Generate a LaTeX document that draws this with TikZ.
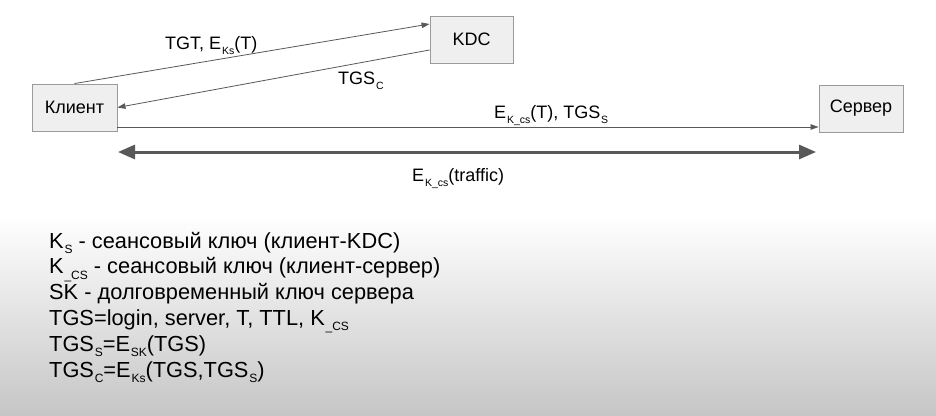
\documentclass[tikz,border=0pt]{standalone}
\usepackage{fontspec}
\setmainfont{Liberation Sans}
\usetikzlibrary{arrows.meta,calc}
\definecolor{boxfill}{RGB}{239,239,239}
\definecolor{boxline}{RGB}{155,155,155}
\definecolor{arrowgrey}{RGB}{89,89,89}
\definecolor{shadegrey}{RGB}{198,198,198}
\newcommand{\lsub}[2][10.5]{\kern0.8pt\raisebox{-5.5pt}{\fontsize{#1}{#1}\selectfont #2}}

\tikzset{
  party/.style={draw=boxline, fill=boxfill, line width=0.9pt, minimum height=47pt, inner sep=0pt, font=\fontsize{18}{18}\selectfont},
  msg/.style={draw=arrowgrey, line width=0.8pt, -{Triangle[length=8pt,width=5.5pt]}},
  msgtext/.style={anchor=base west, inner sep=0pt, font=\fontsize{18}{18}\selectfont},
  legtext/.style={anchor=base west, inner sep=0pt, font=\fontsize{21.8}{21.8}\selectfont},
}

\begin{document}
\begin{tikzpicture}[x=1pt,y=-1pt]
    \useasboundingbox (0,0) rectangle (936,415);

    %Shape: Background
    \fill[white] (0,0) rectangle (936,415);
    \shade[top color=white, bottom color=shadegrey] (0,215) rectangle (936,415);

    %Shape: Rectangle [client]
    \node[party, minimum width=85pt] (client) at (74.5,107.5) {Клиент};
    %Shape: Rectangle [kdc]
    \node[party, minimum width=83pt] (kdc) at (471.5,39.5) {KDC};
    %Shape: Rectangle [server]
    \node[party, minimum width=84pt] (server) at (861,108.5) {Сервер};

    %Straight Lines [client -> kdc]
    \draw[msg] (client.north) -- ($(kdc.west)+(0,-15.5)$);
    %Straight Lines [kdc -> client]
    \draw[msg] ($(kdc.west)+(0,10.5)$) -- (client.east);
    %Straight Lines [client -> server]
    \draw[msg] ($(client.east)+(0,19.5)$) -- ($(server.west)+(0,18.5)$);

    %Straight Lines [traffic]
    \coordinate (trafficL) at (118,152);
    \coordinate (trafficR) at (816,152);
    \draw[draw=arrowgrey, line width=3pt, {Triangle[length=17pt,width=14pt]}-{Triangle[length=17pt,width=14pt]}] (trafficL) -- (trafficR);

    % Text Node
    \node[msgtext] (tgtlabel) at (165,49) {TGT, E\lsub{Ks}(T)};
    % Text Node
    \node[msgtext] (tgsclabel) at (338,84) {TGS\lsub{C}};
    % Text Node
    \node[msgtext] (srvlabel) at (494,118) {E\lsub{K\_cs}(T), TGS\lsub{S}};
    % Text Node
    \node[msgtext] (trafficlabel) at (412,181) {E\lsub{K\_cs}(traffic)};

    % Text Node
    \node[legtext] (leg1) at (49,248) {K\lsub[12]{S} - сеансовый ключ (клиент-KDC)};
    \node[legtext] (leg2) at (49,273.8) {K\lsub[12]{\_CS} - сеансовый ключ (клиент-сервер)};
    \node[legtext] (leg3) at (49,299.6) {SK - долговременный ключ сервера};
    \node[legtext] (leg4) at (49,325.4) {TGS=login, server, T, TTL, K\lsub[12]{\_CS}};
    \node[legtext] (leg5) at (49,351.2) {TGS\lsub[12]{S}=E\lsub[12]{SK}(TGS)};
    \node[legtext] (leg6) at (49,377) {TGS\lsub[12]{C}=E\lsub[12]{Ks}(TGS,TGS\lsub[12]{S})};

\end{tikzpicture}
\end{document}
